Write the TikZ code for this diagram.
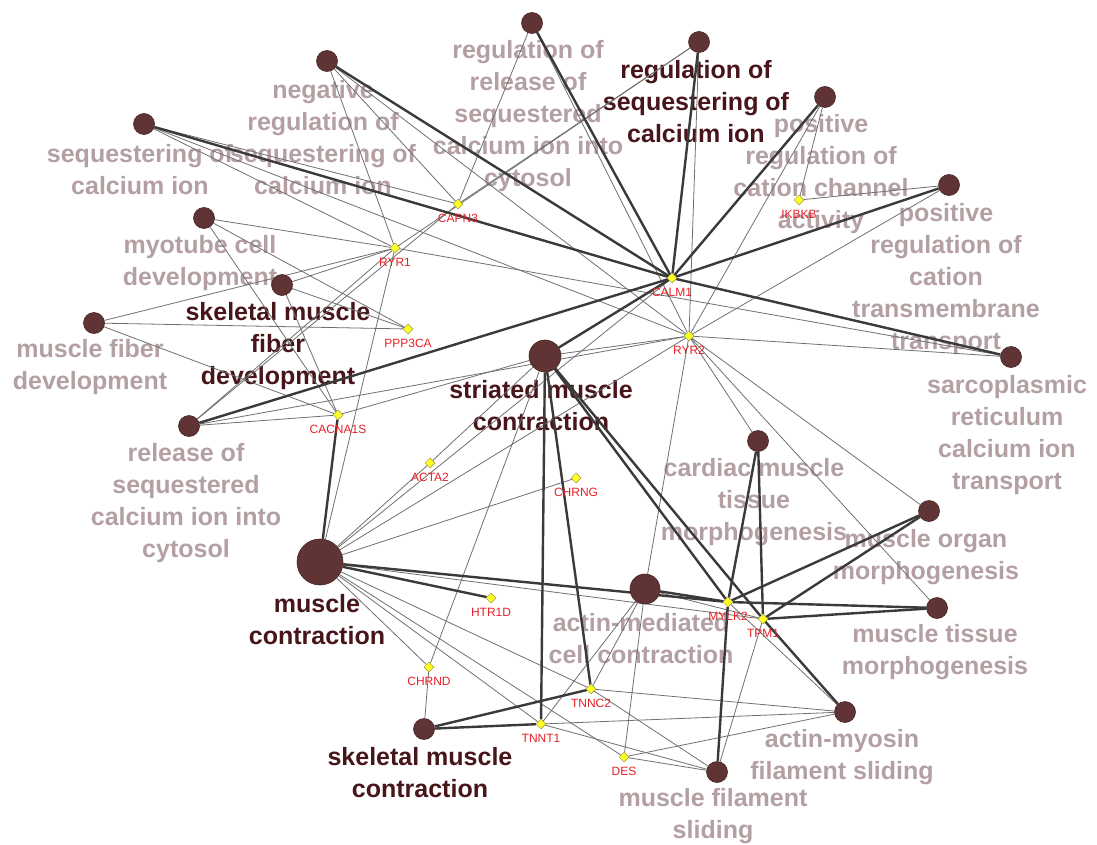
\documentclass[tikz,border=0pt]{standalone}
\usepackage{fontspec}
\setmainfont{Liberation Sans}
\usetikzlibrary{shapes.geometric}
\definecolor{termfill}{RGB}{96,52,52}
\definecolor{termdraw}{RGB}{70,36,36}
\definecolor{greylab}{RGB}{180,160,163}
\definecolor{darklab}{RGB}{72,22,26}
\definecolor{thickc}{RGB}{58,58,58}
\definecolor{thinc}{RGB}{112,112,112}
\definecolor{genefill}{RGB}{255,255,40}
\definecolor{genedraw}{RGB}{150,150,60}
\definecolor{genelab}{RGB}{232,32,40}
\pgfdeclarelayer{bg}
\pgfdeclarelayer{labels}
\pgfdeclarelayer{edges}
\pgfsetlayers{bg,labels,edges,main}
\tikzset{
  term/.style={circle,fill=termfill,draw=termdraw,line width=0.6pt,inner sep=0pt,minimum size=21pt},
  gene/.style={diamond,aspect=1,fill=genefill,draw=genedraw,line width=0.5pt,inner sep=0pt,minimum width=10pt,minimum height=10pt},
  glab/.style={text=genelab,font=\fontsize{12}{14}\selectfont,inner sep=0pt},
  tlab/.style={text=greylab,font=\fontsize{25}{32}\selectfont\bfseries,align=center,inner sep=0pt},
  dlab/.style={text=darklab,font=\fontsize{25}{32}\selectfont\bfseries,align=center,inner sep=0pt},
  thk/.style={draw=thickc,line width=2.4pt},
  thn/.style={draw=thinc,line width=0.8pt}
}
\begin{document}
\begin{tikzpicture}[x=1pt,y=-1pt]
\begin{pgfonlayer}{bg}
\fill[white] (0,0) rectangle (1097,845);
\end{pgfonlayer}
\useasboundingbox (0,0) rectangle (1097,845);
% term nodes
\node[term] (regrel) at (532,23) {};
\node[term] (regseq) at (699,42) {};
\node[term] (poschan) at (825,97) {};
\node[term] (postrans) at (949,185) {};
\node[term] (sarco) at (1011,357) {};
\node[term] (negseq) at (327,61) {};
\node[term] (seq) at (144,124) {};
\node[term] (myotube) at (204,218) {};
\node[term] (skfiber) at (282,285) {};
\node[term] (mfiber) at (94,323) {};
\node[term] (release) at (189,426) {};
\node[term,minimum size=32pt] (striated) at (545,356) {};
\node[term,minimum size=46pt] (musclecontr) at (320,562) {};
\node[term] (cardiac) at (758,441) {};
\node[term] (organ) at (929,511) {};
\node[term,minimum size=30pt] (actinmed) at (645,589) {};
\node[term] (tissue) at (937,608) {};
\node[term] (actmyo) at (845,712) {};
\node[term] (filament) at (717,772) {};
\node[term] (skcontr) at (424,729) {};
% gene nodes
\node[gene] (CAPN3) at (458,204) {};
\node[gene] (RYR1) at (395,248) {};
\node[gene] (PPP3CA) at (408,329) {};
\node[gene] (CACNA1S) at (338,415) {};
\node[gene] (CALM1) at (672,278) {};
\node[gene] (RYR2) at (689,336) {};
\node[gene] (IKBKB) at (799,200) {};
\node[gene] (ACTA2) at (430,463) {};
\node[gene] (CHRNG) at (576,478) {};
\node[gene] (HTR1D) at (491,598) {};
\node[gene] (CHRND) at (429,667) {};
\node[gene] (TNNC2) at (591,689) {};
\node[gene] (TNNT1) at (541,724) {};
\node[gene] (DES) at (624,757) {};
\node[gene] (MYLK2) at (728,602) {};
\node[gene] (TPM1) at (763,619) {};
% gene labels
\node[glab] (CAPN3l) at (458,218) {CAPN3};
\node[glab] (RYR1l) at (395,262) {RYR1};
\node[glab] (PPP3CAl) at (408,343) {PPP3CA};
\node[glab] (CACNA1Sl) at (338,429) {CACNA1S};
\node[glab] (CALM1l) at (672,292) {CALM1};
\node[glab] (RYR2l) at (689,350) {RYR2};
\node[glab] (IKBKBl) at (799,214) {IKBKB};
\node[glab] (ACTA2l) at (430,477) {ACTA2};
\node[glab] (CHRNGl) at (576,492) {CHRNG};
\node[glab] (HTR1Dl) at (491,612) {HTR1D};
\node[glab] (CHRNDl) at (429,681) {CHRND};
\node[glab] (TNNC2l) at (591,703) {TNNC2};
\node[glab] (TNNT1l) at (541,738) {TNNT1};
\node[glab] (DESl) at (624,771) {DES};
\node[glab] (MYLK2l) at (728,616) {MYLK2};
\node[glab] (TPM1l) at (763,633) {TPM1};
% term labels
\begin{pgfonlayer}{labels}
\node[tlab] (regrelL) at (528,116) {regulation of\\release of\\sequestered\\calcium ion into\\cytosol};
\node[dlab] (regseqL) at (696,102) {regulation of\\sequestering of\\calcium ion};
\node[tlab] (poschanL) at (821,174) {positive\\regulation of\\cation channel\\activity};
\node[tlab] (postransL) at (946,279) {positive\\regulation of\\cation\\transmembrane\\transport};
\node[tlab] (sarcoL) at (1007,435) {sarcoplasmic\\reticulum\\calcium ion\\transport};
\node[tlab] (negseqL) at (323,138) {negative\\regulation of\\sequestering of\\calcium ion};
\node[tlab] (seqL) at (140,170) {sequestering of\\calcium ion};
\node[tlab] (myotubeL) at (200,263) {myotube cell\\development};
\node[dlab] (skfiberL) at (278,346) {skeletal muscle\\fiber\\development};
\node[tlab] (mfiberL) at (90,367) {muscle fiber\\development};
\node[dlab] (striatedL) at (541,406) {striated muscle\\contraction};
\node[tlab] (releaseL) at (186,503) {release of\\sequestered\\calcium ion into\\cytosol};
\node[dlab] (musclecontrL) at (317,620) {muscle\\contraction};
\node[tlab] (cardiacL) at (754,502) {cardiac muscle\\tissue\\morphogenesis};
\node[tlab] (organL) at (926,557) {muscle organ\\morphogenesis};
\node[tlab] (actinmedL) at (641,639) {actin-mediated\\cell contraction};
\node[tlab] (tissueL) at (935,652) {muscle tissue\\morphogenesis};
\node[tlab] (actmyoL) at (842,757) {actin-myosin\\filament sliding};
\node[tlab] (filamentL) at (713,816) {muscle filament\\sliding};
\node[dlab] (skcontrL) at (420,773) {skeletal muscle\\contraction};
\end{pgfonlayer}
% edges
\begin{pgfonlayer}{edges}
% thin edges
\foreach \a/\b in {seq/CAPN3,seq/RYR1,seq/RYR2,
  negseq/CAPN3,negseq/RYR1,negseq/RYR2,
  regrel/CAPN3,regrel/RYR2,
  regseq/CAPN3,regseq/RYR1,regseq/RYR2,
  poschan/IKBKB,poschan/RYR2,postrans/IKBKB,postrans/RYR2,
  sarco/RYR2,sarco/RYR1,
  myotube/RYR1,myotube/PPP3CA,myotube/CACNA1S,
  skfiber/RYR1,skfiber/PPP3CA,skfiber/CACNA1S,
  mfiber/RYR1,mfiber/PPP3CA,mfiber/CACNA1S,
  release/RYR1,release/CAPN3,release/CACNA1S,release/RYR2,
  striated/CACNA1S,striated/RYR2,striated/CHRND,striated/ACTA2,
  musclecontr/RYR1,musclecontr/CALM1,musclecontr/RYR2,musclecontr/ACTA2,
  musclecontr/CHRNG,musclecontr/CHRND,musclecontr/TNNT1,musclecontr/TNNC2,
  musclecontr/DES,musclecontr/TPM1,
  skcontr/CHRND,
  actinmed/RYR2,actinmed/TNNT1,actinmed/TNNC2,actinmed/DES,actinmed/TPM1,
  actmyo/TNNT1,actmyo/TNNC2,actmyo/DES,actmyo/MYLK2,
  filament/TNNT1,filament/TNNC2,filament/DES,filament/TPM1,
  cardiac/RYR2,organ/RYR2,tissue/RYR2}
  {\draw[thn] (\a) -- (\b);}
% thick edges
\foreach \a/\b in {seq/CALM1,negseq/CALM1,regrel/CALM1,regseq/CALM1,
  poschan/CALM1,postrans/CALM1,sarco/CALM1,release/CALM1,striated/CALM1,
  CACNA1S/musclecontr,musclecontr/HTR1D,musclecontr/MYLK2,
  striated/TNNT1,striated/TNNC2,striated/MYLK2,striated/TPM1,
  skcontr/TNNT1,skcontr/TNNC2,
  cardiac/MYLK2,cardiac/TPM1,organ/MYLK2,organ/TPM1,tissue/MYLK2,tissue/TPM1,
  actinmed/MYLK2,actmyo/TPM1,filament/MYLK2}
  {\draw[thk] (\a) -- (\b);}
\end{pgfonlayer}
\end{tikzpicture}
\end{document}
